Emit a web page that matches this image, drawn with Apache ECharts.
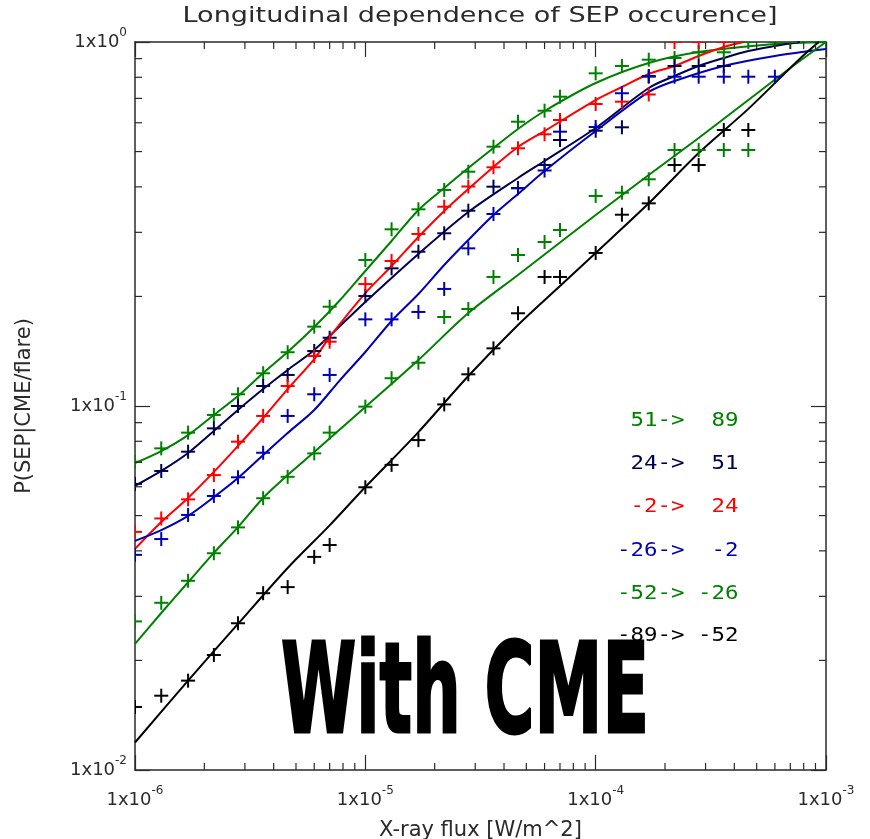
<!DOCTYPE html>
<html>
<head>
<meta charset="utf-8">
<title>Longitudinal dependence of SEP occurence</title>
<script src="https://cdn.jsdelivr.net/npm/echarts@6/dist/echarts.min.js"></script>
<style>
  html, body { margin: 0; padding: 0; background: #fff; }
  #chart { width: 870px; height: 839px; }
</style>
</head>
<body>
<div id="chart"></div>
<script>
// flux bins (W/m^2) where the observed fractions sit
const fluxBins = [1.0e-6, 1.3e-6, 1.7e-6, 2.2e-6, 2.8e-6, 3.6e-6, 4.6e-6, 6.0e-6, 7.0e-6,
                  1.0e-5, 1.3e-5, 1.7e-5, 2.2e-5, 2.8e-5, 3.6e-5, 4.6e-5, 6.0e-5, 7.0e-5,
                  1.0e-4, 1.3e-4, 1.7e-4, 2.2e-4, 2.8e-4, 3.6e-4, 4.6e-4, 6.0e-4, 7.0e-4];

// observed P(SEP|CME/flare) per longitude band (null = no point)
const obs51_89   = [0.0703, 0.0765, 0.0845, 0.0945, 0.1077, 0.1230, 0.1405, 0.1652, 0.1874,
                    0.2518, 0.3058, 0.3470, 0.3922, 0.4402, 0.5157, 0.6040, 0.6475, 0.7075,
                    0.8202, 0.8592, 0.8941, 0.9039, 0.9369, 0.9369, 1.0, 1.0, 1.0];
const obs24_51   = [0.0611, 0.0663, 0.0749, 0.0868, 0.1000, 0.1135, 0.1217, 0.1416, 0.1540,
                    0.2005, 0.2389, 0.2654, 0.2982, 0.3440, 0.4004, 0.3963, 0.4593, 0.5379,
                    0.5705, 0.5830, 0.8065, 0.8592, 0.8592, 0.8592, null, null, null];
const obsM2_24   = [0.0451, 0.0491, 0.0554, 0.0646, 0.0798, 0.0939, 0.1135, 0.1372, 0.1502,
                    0.2163, 0.2502, 0.2969, 0.3528, 0.4009, 0.4527, 0.5105, 0.5578, 0.6105,
                    0.6755, 0.6855, 0.7175, 1.0, 1.0, 1.0, null, null, null];
const obsM26_M2  = [0.0390, 0.0431, 0.0502, 0.0566, 0.0637, 0.0744, 0.0939, 0.1077, 0.1217,
                    0.1730, 0.1730, 0.1813, 0.2097, 0.2711, 0.3369, 0.3971, 0.4436, 0.5670,
                    0.5841, 0.7231, 0.8029, 0.8029, 0.8029, 0.8029, 0.8029, 0.8029, null];
const obsM52_M26 = [0.0256, 0.0288, 0.0331, 0.0394, 0.0464, 0.0558, 0.0639, 0.0741, 0.0845,
                    0.0996, 0.1192, 0.1315, 0.1756, 0.1847, 0.2262, 0.2599, 0.2822, 0.3044,
                    0.3776, 0.3855, 0.4196, 0.505, 0.505, 0.505, 0.505, null, null];
const obsM89_M52 = [0.0149, 0.0160, 0.0176, 0.0207, 0.0253, 0.0306, 0.0318, 0.0385, 0.0415,
                    0.0598, 0.0689, 0.0806, 0.1010, 0.1222, 0.1440, 0.1798, 0.2262, 0.2262,
                    0.2633, 0.3354, 0.3604, 0.4593, 0.4593, 0.5732, 0.5732, null, null];

// fitted curves [flux, P]
const fit51_89 = [[1.0e-6, 0.0697], [1.3e-6, 0.0752], [1.7e-6, 0.0832], [2.2e-6, 0.0945], [2.8e-6, 0.1065],
  [3.6e-6, 0.1232], [4.6e-6, 0.1407], [6.0e-6, 0.1648], [7.7e-6, 0.1943], [1.0e-5, 0.2349], [1.3e-5, 0.2840],
  [1.7e-5, 0.3455], [2.2e-5, 0.3971], [2.8e-5, 0.4506], [3.6e-5, 0.5114], [4.6e-5, 0.5768], [6.0e-5, 0.6463],
  [1.0e-4, 0.7714], [1.7e-4, 0.8755], [2.8e-4, 0.9387], [6.0e-4, 0.9874], [1.0e-3, 1.0]];
const fit24_51 = [[1.0e-6, 0.0603], [1.3e-6, 0.0663], [1.7e-6, 0.0743], [2.2e-6, 0.0854], [2.8e-6, 0.0975],
  [3.6e-6, 0.1113], [4.6e-6, 0.1256], [6.0e-6, 0.1425], [1.0e-5, 0.1931], [1.7e-5, 0.2616], [2.8e-5, 0.3411],
  [4.6e-5, 0.4231], [6.0e-5, 0.4710], [1.0e-4, 0.5803], [1.7e-4, 0.7475], [2.2e-4, 0.8065], [2.8e-4, 0.8592],
  [3.6e-4, 0.9039], [4.6e-4, 0.9447], [6.0e-4, 0.9750], [7.7e-4, 1.0]];
const fitM2_24 = [[1.0e-6, 0.0405], [1.3e-6, 0.0480], [1.7e-6, 0.0559], [2.2e-6, 0.0659], [2.8e-6, 0.0777],
  [3.6e-6, 0.0927], [4.6e-6, 0.1113], [6.0e-6, 0.1346], [7.0e-6, 0.1547], [1.0e-5, 0.2043], [1.3e-5, 0.2424],
  [1.7e-5, 0.2912], [2.2e-5, 0.3433], [2.8e-5, 0.3946], [3.6e-5, 0.4535], [4.6e-5, 0.5148], [6.0e-5, 0.5694],
  [1.0e-4, 0.6928], [1.3e-4, 0.7522], [1.7e-4, 0.8168], [2.2e-4, 0.8592], [2.8e-4, 0.9153], [3.6e-4, 0.9689],
  [4.4e-4, 1.0]];
const fitM26_M2 = [[1.0e-6, 0.0426], [1.3e-6, 0.0456], [1.7e-6, 0.0499], [2.2e-6, 0.0562], [2.8e-6, 0.0634],
  [3.6e-6, 0.0733], [4.6e-6, 0.0843], [6.0e-6, 0.0975], [7.7e-6, 0.1171], [1.0e-5, 0.1407], [1.3e-5, 0.1712],
  [1.7e-5, 0.2031], [2.2e-5, 0.2440], [2.8e-5, 0.2858], [3.6e-5, 0.3347], [4.6e-5, 0.3824], [6.0e-5, 0.4421],
  [1.0e-4, 0.5694], [1.7e-4, 0.7290], [2.2e-4, 0.7813], [3.6e-4, 0.8592], [6.0e-4, 0.9153], [1.0e-3, 0.9567]];
const fitM52_M26 = [[1.0e-6, 0.0222], [1.3e-6, 0.0270], [1.7e-6, 0.0328], [2.2e-6, 0.0395], [2.8e-6, 0.0465],
  [3.6e-6, 0.0559], [4.6e-6, 0.0646], [6.0e-6, 0.0747], [1.0e-5, 0.0994], [1.7e-5, 0.1338], [2.8e-5, 0.1800],
  [4.6e-5, 0.2291], [7.0e-5, 0.2813], [1.0e-4, 0.3347], [1.7e-4, 0.4311], [2.8e-4, 0.5449], [4.6e-4, 0.6928],
  [7.0e-4, 0.8483], [1.0e-3, 1.0]];
const fitM89_M52 = [[1.0e-6, 0.0119], [1.7e-6, 0.0176], [2.8e-6, 0.0252], [4.6e-6, 0.0359], [7.0e-6, 0.0470],
  [1.0e-5, 0.0599], [1.7e-5, 0.0848], [2.8e-5, 0.1209], [4.6e-5, 0.1670], [7.0e-5, 0.2137], [1.0e-4, 0.2633],
  [1.7e-4, 0.3604], [2.8e-4, 0.4955], [4.6e-4, 0.6550], [7.7e-4, 0.9000], [9.3e-4, 1.0]];

// longitude bands (legend text) and colours
const bandLabels = [' 51->  89', ' 24->  51', ' -2->  24', '-26->  -2', '-52-> -26', '-89-> -52'];
const bandColors = ['#008000', '#000050', '#ff0000', '#0000b4', '#008000', '#000000'];
const bandObs = [obs51_89, obs24_51, obsM2_24, obsM26_M2, obsM52_M26, obsM89_M52];
const bandFits = [fit51_89, fit24_51, fitM2_24, fitM26_M2, fitM52_M26, fitM89_M52];

// minor tick positions
const xMinorTicks = [2e-6, 3e-6, 4e-6, 5e-6, 6e-6, 7e-6, 8e-6, 9e-6,
                     2e-5, 3e-5, 4e-5, 5e-5, 6e-5, 7e-5, 8e-5, 9e-5,
                     2e-4, 3e-4, 4e-4, 5e-4, 6e-4, 7e-4, 8e-4, 9e-4];
const yMinorTicks = [0.02, 0.03, 0.04, 0.05, 0.06, 0.07, 0.08, 0.09,
                     0.2, 0.3, 0.4, 0.5, 0.6, 0.7, 0.8, 0.9];
const xRange = [1e-6, 1e-3];
const yRange = [0.01, 1];

const FONT = '"DejaVu Sans", sans-serif';
const AXIS_COLOR = '#2a2a2a';

function powLabel(v) {
  return '1x10{sup|' + Math.round(Math.log10(v)) + '}';
}

const labelStyle = {
  color: AXIS_COLOR,
  fontFamily: FONT,
  fontSize: 18,
  lineHeight: 30,
  formatter: powLabel,
  rich: {
    sup: { fontSize: 12, lineHeight: 12, verticalAlign: 'top', fontFamily: FONT, color: AXIS_COLOR }
  }
};

function logAxis(extra) {
  return Object.assign({
    type: 'log',
    logBase: 10,
    axisLine: { show: true, lineStyle: { color: AXIS_COLOR, width: 1.5 } },
    axisTick: { show: true, inside: true, length: 15, lineStyle: { color: AXIS_COLOR, width: 1.2 } },
    splitLine: { show: false },
    minorTick: { show: false },
    nameTextStyle: { color: AXIS_COLOR, fontFamily: FONT, fontSize: 21 }
  }, extra);
}

// "+" marker drawn as two strokes, clipped to the plot frame
function plusRenderer(color) {
  return function (params, api) {
    const p = api.coord([api.value(0), api.value(1)]);
    const h = 7;
    const st = { stroke: color, lineWidth: 2 };
    return { type: 'group', children: [
      { type: 'line', shape: { x1: p[0] - h, y1: p[1], x2: p[0] + h, y2: p[1] }, style: st },
      { type: 'line', shape: { x1: p[0], y1: p[1] - h, x2: p[0], y2: p[1] + h }, style: st }
    ] };
  };
}

const chart = echarts.init(document.getElementById('chart'));

const series = [];
bandLabels.forEach((name, k) => {
  series.push({
    name: name,
    type: 'line',
    data: bandFits[k],
    smooth: 0.3,
    symbol: 'none',
    lineStyle: { color: bandColors[k], width: 2 },
    z: 2
  });
  series.push({
    name: name,
    type: 'custom',
    data: fluxBins.map((x, i) => [x, bandObs[k][i]]).filter(p => p[1] != null),
    renderItem: plusRenderer(bandColors[k]),
    clip: true,
    z: 3
  });
});

// minor ticks along bottom/top and left/right of the frame
series.push({
  type: 'custom',
  silent: true,
  z: 5,
  data: xMinorTicks.map(v => [v, yRange[0]]),
  renderItem: function (params, api) {
    const b = api.coord([api.value(0), yRange[0]]);
    const t = api.coord([api.value(0), yRange[1]]);
    const st = { stroke: AXIS_COLOR, lineWidth: 1.2 };
    return { type: 'group', children: [
      { type: 'line', shape: { x1: b[0], y1: b[1], x2: b[0], y2: b[1] - 7 }, style: st },
      { type: 'line', shape: { x1: t[0], y1: t[1], x2: t[0], y2: t[1] + 7 }, style: st }
    ] };
  }
});
series.push({
  type: 'custom',
  silent: true,
  z: 5,
  data: yMinorTicks.map(v => [xRange[0], v]),
  renderItem: function (params, api) {
    const l = api.coord([xRange[0], api.value(1)]);
    const r = api.coord([xRange[1], api.value(1)]);
    const st = { stroke: AXIS_COLOR, lineWidth: 1.2 };
    return { type: 'group', children: [
      { type: 'line', shape: { x1: l[0], y1: l[1], x2: l[0] + 7, y2: l[1] }, style: st },
      { type: 'line', shape: { x1: r[0], y1: r[1], x2: r[0] - 7, y2: r[1] }, style: st }
    ] };
  }
});

const graphic = [
  {
    type: 'text', x: 480, y: 16, scaleX: 1.23,
    style: {
      text: 'Longitudinal dependence of SEP occurence]',
      font: '22px ' + FONT, fill: AXIS_COLOR,
      align: 'center', verticalAlign: 'middle', textAlign: 'center', textVerticalAlign: 'middle'
    }
  }
];
const legendY = [421, 464, 507, 551, 594, 636];
bandLabels.forEach((name, k) => {
  graphic.push({
    type: 'text', x: 617, y: legendY[k], scaleX: 1.12, z: 10,
    style: {
      text: name,
      font: '20px "DejaVu Sans Mono", monospace', fill: bandColors[k],
      align: 'left', verticalAlign: 'middle', textAlign: 'left', textVerticalAlign: 'middle'
    }
  });
});
graphic.push({
  type: 'text', x: 465, y: 700, scaleX: 0.55, z: 11,
  style: {
    text: 'With CME',
    font: 'bold 124px ' + FONT, fill: '#000', stroke: '#000', lineWidth: 3,
    align: 'center', verticalAlign: 'middle', textAlign: 'center', textVerticalAlign: 'middle'
  }
});

chart.setOption({
  animation: false,
  backgroundColor: '#fff',
  grid: { left: 135, right: 44, top: 42, bottom: 69, containLabel: false, outerBoundsMode: 'none' },
  xAxis: [
    logAxis({
      position: 'bottom', min: xRange[0], max: xRange[1],
      name: 'X-ray flux [W/m^2]', nameLocation: 'middle', nameGap: 46,
      axisLabel: Object.assign({ margin: 15 }, labelStyle)
    }),
    logAxis({ position: 'top', min: xRange[0], max: xRange[1], axisLabel: { show: false } })
  ],
  yAxis: [
    logAxis({
      position: 'left', min: yRange[0], max: yRange[1],
      name: 'P(SEP|CME/flare)', nameLocation: 'middle', nameGap: 100,
      axisLabel: Object.assign({ margin: 8 }, labelStyle)
    }),
    logAxis({ position: 'right', min: yRange[0], max: yRange[1], axisLabel: { show: false } })
  ],
  graphic: graphic,
  series: series
});
</script>
</body>
</html>
